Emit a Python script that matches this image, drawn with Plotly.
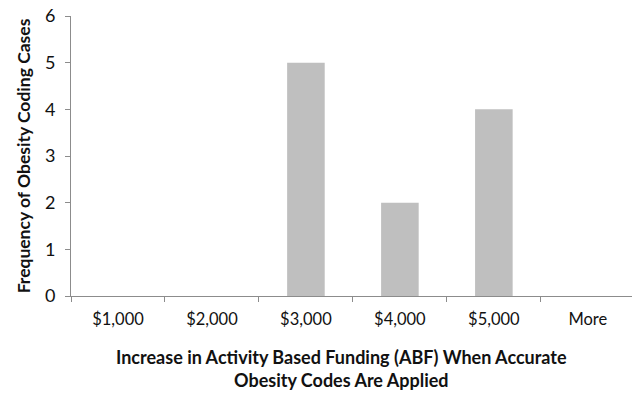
import plotly.graph_objects as go

categories = ["$1,000", "$2,000", "$3,000", "$4,000", "$5,000", "More"]
frequency = [0, 0, 5, 2, 4, 0]
y_ticks = [0, 1, 2, 3, 4, 5, 6]

font_family = "Lato, Carlito, Calibri, sans-serif"

fig = go.Figure(go.Bar(
    x=categories, y=frequency,
    marker=dict(color="#BFBFBF", line=dict(width=0)),
    width=0.4,
))

fig.update_layout(
    width=632, height=394,
    margin=dict(l=71, r=0, t=16, b=98),
    plot_bgcolor="white", paper_bgcolor="white",
    showlegend=False,
    font=dict(family=font_family, size=16, color="#111111"),
)

fig.update_xaxes(
    range=[-0.5, 5.47],
    showline=True, linecolor="#8c8c8c", linewidth=1,
    ticks="outside", ticklen=5, tickcolor="#8c8c8c",
    tickson="boundaries",
    showgrid=False, zeroline=False,
    tickfont=dict(size=16.5),
    ticklabelstandoff=8,
)

fig.add_annotation(
    text="<b>Increase in Activity Based Funding (ABF) When Accurate<br>Obesity Codes Are Applied</b>",
    xref="paper", yref="paper", x=0.482, y=-0.172,
    xanchor="center", yanchor="top", showarrow=False,
    font=dict(size=18), align="center",
)

fig.update_yaxes(
    range=[0, 6],
    tickvals=y_ticks,
    showline=True, linecolor="#8c8c8c", linewidth=1,
    ticks="outside", ticklen=5, tickcolor="#8c8c8c",
    showgrid=False, zeroline=False,
    tickfont=dict(size=18),
    ticklabelstandoff=6,
    title=dict(text="<b>Frequency of Obesity Coding Cases</b>", font=dict(size=17.5), standoff=9),
)

fig.write_html("out.html")
